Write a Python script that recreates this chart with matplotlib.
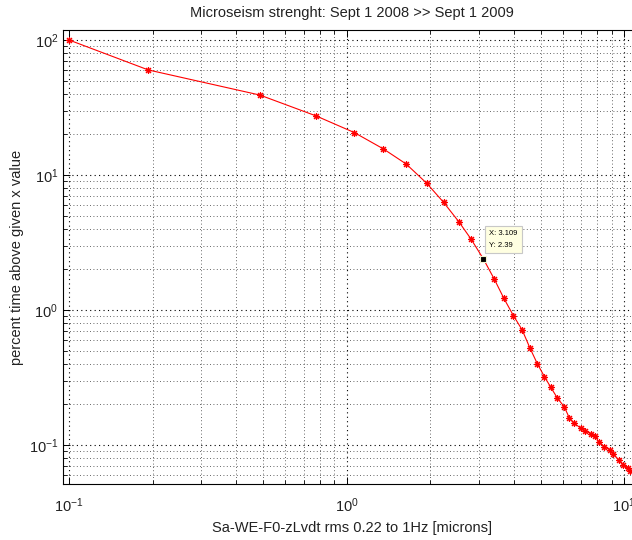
import matplotlib
matplotlib.use("Agg")
import matplotlib.pyplot as plt
from matplotlib.ticker import LogLocator, NullFormatter

plt.rcParams['font.family'] = ['Liberation Sans', 'DejaVu Sans']
plt.rcParams['mathtext.default'] = 'regular'

x_vals = [0.1, 0.193, 0.487, 0.776, 1.067, 1.357, 1.639, 1.945, 2.234, 2.544,
          2.81, 3.109, 3.40, 3.685, 3.99, 4.29, 4.58, 4.87, 5.16, 5.44,
          5.75, 6.08, 6.35, 6.60, 6.98, 7.24, 7.59, 7.86, 8.08, 8.47,
          8.90, 9.15, 9.54, 9.94, 10.31, 10.51]
y_vals = [100, 60.0, 39.1, 27.4, 20.6, 15.6, 12.06, 8.67, 6.28, 4.47,
          3.34, 2.39, 1.70, 1.22, 0.908, 0.711, 0.520, 0.398, 0.321, 0.267,
          0.222, 0.192, 0.158, 0.145, 0.133, 0.128, 0.1206, 0.1166, 0.106, 0.0973,
          0.0919, 0.0858, 0.0774, 0.0711, 0.0672, 0.0645]
tip_x = 3.109
tip_y = 2.39

title = "Microseism strenght: Sept 1 2008 >> Sept 1 2009"
xlabel = "Sa-WE-F0-zLvdt rms 0.22 to 1Hz [microns]"
ylabel = "percent time above given x value"

fig = plt.figure(figsize=(6.32, 5.4), dpi=100)
ax = fig.add_axes([63/632, 56/540, 577/632, 454/540])

ax.plot(x_vals, y_vals, color='red', linewidth=0.8, marker=(8, 2, 0),
        markersize=5, markeredgewidth=0.8, markeredgecolor='red')
ax.plot([tip_x], [tip_y], marker='s', markersize=5, color='black',
        markeredgecolor='#f4f4d0', markeredgewidth=0.8, zorder=5)
ax.annotate("X: %.3f\nY: %.2f" % (tip_x, tip_y), xy=(tip_x, tip_y),
            xytext=(6, 10), textcoords='offset pixels', fontsize=5.5,
            ha='left', va='bottom', linespacing=1.9,
            bbox=dict(boxstyle='square,pad=0.6', fc='#ffffe1', ec='#c8c8c8', lw=0.8),
            zorder=6)

ax.set_xscale('log')
ax.set_yscale('log')
ax.set_xlim(0.0951, 11.4)
ax.set_ylim(0.0514, 118.6)

ax.xaxis.set_major_locator(LogLocator(base=10, numticks=10))
ax.yaxis.set_major_locator(LogLocator(base=10, numticks=10))
ax.xaxis.set_minor_locator(LogLocator(base=10, subs=range(2, 10), numticks=20))
ax.yaxis.set_minor_locator(LogLocator(base=10, subs=range(2, 10), numticks=20))
ax.xaxis.set_minor_formatter(NullFormatter())
ax.yaxis.set_minor_formatter(NullFormatter())

ax.grid(True, which='major', linestyle=(0, (1, 3)), color='black', linewidth=0.8)
ax.grid(True, which='minor', linestyle=(0, (1, 3)), color='#333333', linewidth=0.6)

ax.tick_params(which='both', direction='in', top=True, right=True, labelsize=10.5,
               colors='black', labelcolor='#222222')
ax.tick_params(which='major', length=5, width=0.7)
ax.tick_params(which='minor', length=3, width=0.6)
ax.tick_params(axis='x', pad=9)

for s in ax.spines.values():
    s.set_linewidth(0.8)

ax.set_title(title, fontsize=10.5, color='#222222', pad=9)
ax.set_xlabel(xlabel, fontsize=10.5, color='#222222', labelpad=4)
ax.set_ylabel(ylabel, fontsize=10.5, color='#222222', labelpad=3)

fig.savefig("out.png", dpi=100)
